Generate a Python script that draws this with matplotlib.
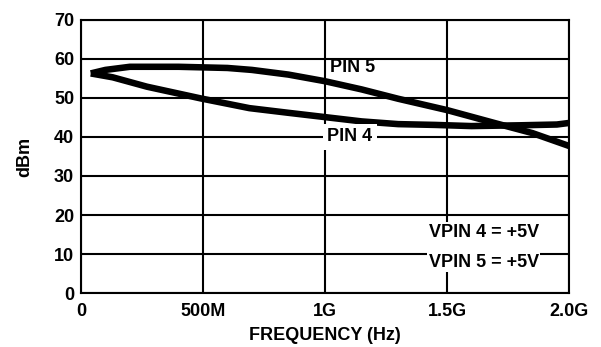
import matplotlib.pyplot as plt

plt.rcParams['font.family'] = ['Liberation Sans', 'DejaVu Sans']
plt.rcParams['font.weight'] = 'bold'

# Datos (frecuencia en GHz, potencia en dBm)
freq_pin5 = [0.04, 0.1, 0.2, 0.4, 0.6, 0.7, 0.85, 1.0, 1.15, 1.3, 1.5, 1.7, 1.85, 2.0]
dbm_pin5 = [56.3, 57.2, 58.0, 58.0, 57.7, 57.2, 56.0, 54.3, 52.2, 49.8, 46.9, 43.5, 41.0, 37.7]

freq_pin4 = [0.04, 0.13, 0.27, 0.49, 0.69, 0.85, 1.0, 1.15, 1.3, 1.45, 1.6, 1.8, 1.95, 2.0]
dbm_pin4 = [56.3, 55.3, 52.9, 49.9, 47.4, 46.2, 45.1, 44.0, 43.3, 43.1, 42.8, 43.0, 43.2, 43.6]

x_ticks = [0, 0.5, 1.0, 1.5, 2.0]
x_tick_labels = ['0', '500M', '1G', '1.5G', '2.0G']
y_ticks = [0, 10, 20, 30, 40, 50, 60, 70]

fs = 13

fig = plt.figure(figsize=(6.01, 3.47), dpi=100)
ax = fig.add_axes([0.1348, 0.1556, 0.812, 0.7868])

# Curvas
ax.plot(freq_pin5, dbm_pin5, color='black', linewidth=4.7, solid_capstyle='butt', zorder=3)
ax.plot(freq_pin4, dbm_pin4, color='black', linewidth=4.7, solid_capstyle='butt', zorder=3)

# Ejes y rejilla
ax.set_xlim(0, 2.0)
ax.set_ylim(0, 70)
ax.set_xticks(x_ticks)
ax.set_xticklabels(x_tick_labels)
ax.set_yticks(y_ticks)
ax.grid(True, color='black', linewidth=1.5)
ax.set_axisbelow(True)
for s in ax.spines.values():
    s.set_linewidth(1.5)
ax.tick_params(length=0, labelsize=fs, pad=5)
ax.tick_params(axis='x', pad=7)

ax.set_xlabel('FREQUENCY (Hz)', fontsize=fs, fontweight='bold', labelpad=5)
ax.set_ylabel('dBm', fontsize=fs, fontweight='bold', labelpad=15)

# Etiquetas
ax.text(1.02, 57.7, 'PIN 5', fontsize=fs, fontweight='bold', va='center', ha='left', zorder=4)
ax.text(1.01, 40, 'PIN 4', fontsize=fs, fontweight='bold', va='center', ha='left', zorder=4,
        bbox=dict(facecolor='white', edgecolor='none', pad=3))
ax.text(1.65, 11.7, 'VPIN 4 = +5V\nVPIN 5 = +5V', fontsize=fs, fontweight='bold',
        va='center', ha='center', linespacing=2.0, zorder=4,
        bbox=dict(facecolor='white', edgecolor='none', pad=1))

plt.savefig('out.png', dpi=100)
